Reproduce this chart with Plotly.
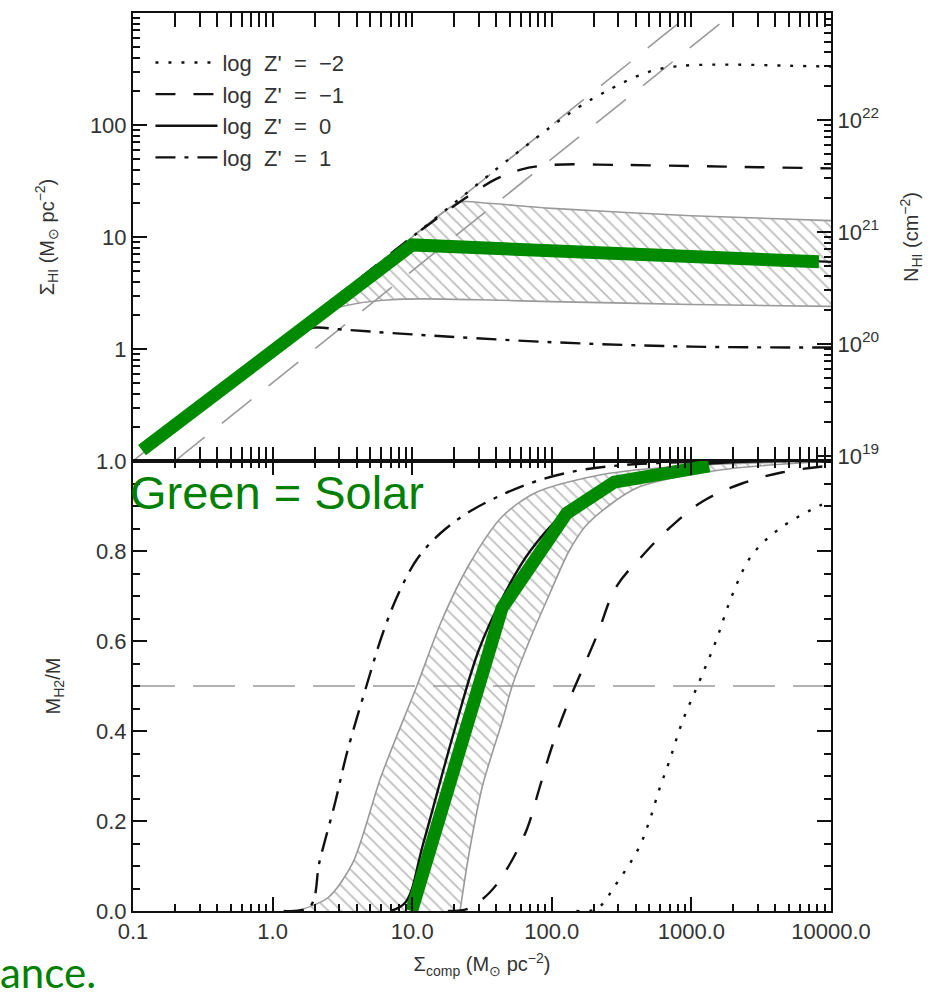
import numpy as np
import plotly.graph_objects as go

# ---------------- data ----------------
# top panel: Sigma_HI vs Sigma_comp
top_z_m2_x = [1, 10, 60, 150, 272, 400, 550, 750, 1000, 2000, 5000, 10000]
top_z_m2_y = [1, 10, 60, 140, 214, 270, 310, 332, 342, 346, 338, 332]
top_z_m1_x = [1, 10, 25, 40, 60, 100, 300, 1000, 3000, 10000]
top_z_m1_y = [1, 10, 23, 33, 40, 44, 44, 43, 42, 41]
top_z_0_x = [1, 5, 8, 12, 20, 100, 1000, 10000]
top_z_0_y = [1, 4.9, 7, 8, 8.2, 7.6, 6.8, 6.0]
top_z_p1_x = [1, 1.5, 2, 3, 10, 100, 1000, 10000]
top_z_p1_y = [1, 1.4, 1.55, 1.5, 1.35, 1.15, 1.05, 1.03]

top_band_up_x = [1.8, 5, 10, 16, 22, 35, 100, 1000, 10000]
top_band_up_y = [1.8, 5, 10, 16, 20.5, 20, 18, 15.5, 14]
top_band_lo_x = [1.8, 2.5, 4, 7, 12, 30, 100, 1000, 10000]
top_band_lo_y = [1.8, 2.2, 2.55, 2.75, 2.8, 2.75, 2.65, 2.5, 2.4]

top_ref1_x = [0.1, 1000]
top_ref1_y = [0.1, 1000]
top_ref2_x = [0.2, 2000]
top_ref2_y = [0.1, 1000]

green_top_x = [0.116, 10, 8200]
green_top_y = [0.125, 8.5, 6.0]

# bottom panel: M_H2 / M vs Sigma_comp
bot_z_m2_x = [150, 210, 289, 420, 500, 588, 690, 860, 1140, 1500, 1950, 2700, 4300, 8200, 10000]
bot_z_m2_y = [0, 0.005, 0.06, 0.14, 0.2, 0.27, 0.33, 0.42, 0.51, 0.6, 0.7, 0.79, 0.85, 0.9, 0.91]
bot_z_m1_x = [18, 25, 35.6, 47, 66, 81, 99, 126, 209, 289, 447, 690, 1200, 2300, 4500, 10000]
bot_z_m1_y = [0, 0.005, 0.04, 0.09, 0.18, 0.27, 0.36, 0.45, 0.61, 0.72, 0.79, 0.85, 0.91, 0.95, 0.975, 0.99]
bot_z_0_x = [7, 9, 12, 20, 30, 45, 70, 130, 300, 1000, 10000]
bot_z_0_y = [0, 0.02, 0.15, 0.4, 0.58, 0.7, 0.8, 0.89, 0.95, 0.99, 1.0]
bot_z_p1_x = [1.2, 1.85, 2.17, 2.8, 3.4, 4.7, 6.2, 8.1, 11, 16, 25, 44, 77, 150, 300, 1000, 10000]
bot_z_p1_y = [0, 0.01, 0.11, 0.24, 0.35, 0.5, 0.62, 0.71, 0.785, 0.84, 0.885, 0.925, 0.955, 0.978, 0.99, 0.998, 1.0]

bot_band_l_x = [1.5, 2.5, 3.75, 6, 10.8, 16, 25.6, 44, 77, 230, 1000, 10000]
bot_band_l_y = [0, 0.03, 0.107, 0.3, 0.5, 0.64, 0.77, 0.876, 0.93, 0.97, 0.99, 1.0]
bot_band_r_x = [22, 25.6, 32, 44, 52, 69, 95, 133, 180, 405, 1600, 10000]
bot_band_r_y = [0, 0.13, 0.28, 0.42, 0.5, 0.6, 0.7, 0.8, 0.86, 0.94, 0.98, 1.0]

half_x = [0.1, 10000]
half_y = [0.5, 0.5]

green_bot_x = [9.9, 44, 128, 280, 1340]
green_bot_y = [0, 0.673, 0.884, 0.953, 0.989]

x_tickvals = [0.1, 1, 10, 100, 1000, 10000]
x_ticktext = ["0.1", "1.0", "10.0", "100.0", "1000.0", "10000.0"]
top_tickvals = [1, 10, 100]
top_ticktext = ["1", "10", "100"]
nhi_tickvals = [1e19, 1e20, 1e21, 1e22]
nhi_ticktext = ["10<sup>19</sup>", "10<sup>20</sup>", "10<sup>21</sup>", "10<sup>22</sup>"]
bot_tickvals = [0, 0.2, 0.4, 0.6, 0.8, 1.0]
bot_ticktext = ["0.0", "0.2", "0.4", "0.6", "0.8", "1.0"]
legend_names = ["log\u00a0 Z'\u00a0 =\u00a0 \u22122", "log\u00a0 Z'\u00a0 =\u00a0 \u22121",
                "log\u00a0 Z'\u00a0 =\u00a0 0", "log\u00a0 Z'\u00a0 =\u00a0 1"]
NHI_PER_SIGMA = 9e19

# ---------------- styles ----------------
GREEN = "#008a00"
GRAY = "#9a9a9a"
DOT = "3px,10px"
DASH = "20px,18px"
DASHDOT = "20px,9px,4px,9px"
LONG = "38px,22px"
HLONG = "42px,18px"

fig = go.Figure()
pat = dict(shape="\\", size=9, solidity=0.18, fgcolor="#777", bgcolor="white")
band_line = dict(color=GRAY, width=1.6, shape="spline", smoothing=0.8)

# top panel band (lower boundary, then upper boundary filled to it)
fig.add_trace(go.Scatter(x=top_band_lo_x, y=top_band_lo_y, mode="lines", line=band_line,
                         showlegend=False, xaxis="x", yaxis="y", hoverinfo="skip"))
fig.add_trace(go.Scatter(x=top_band_up_x, y=top_band_up_y, mode="lines", line=band_line,
                         fill="tonexty", fillcolor="rgba(0,0,0,0)", fillpattern=pat,
                         showlegend=False, xaxis="x", yaxis="y", hoverinfo="skip"))
fig.add_trace(go.Scatter(x=top_ref1_x, y=top_ref1_y, mode="lines", line=dict(color=GRAY, width=1.6, dash=LONG),
                         showlegend=False, xaxis="x", yaxis="y"))
fig.add_trace(go.Scatter(x=top_ref2_x, y=top_ref2_y, mode="lines", line=dict(color=GRAY, width=1.6, dash=LONG),
                         showlegend=False, xaxis="x", yaxis="y"))
styles = [DOT, DASH, "solid", DASHDOT]
tops = [(top_z_m2_x, top_z_m2_y), (top_z_m1_x, top_z_m1_y), (top_z_0_x, top_z_0_y), (top_z_p1_x, top_z_p1_y)]
for (xx, yy), st, nm in zip(tops, styles, legend_names):
    fig.add_trace(go.Scatter(x=xx, y=yy, mode="lines", name=nm,
                             line=dict(color="#111", width=2.4, dash=st, shape="spline"),
                             xaxis="x", yaxis="y"))
fig.add_trace(go.Scatter(x=green_top_x, y=green_top_y, mode="lines", line=dict(color=GREEN, width=13),
                         showlegend=False, xaxis="x", yaxis="y"))
# invisible trace on N_HI axis
fig.add_trace(go.Scatter(x=green_top_x, y=[v * NHI_PER_SIGMA for v in green_top_y], mode="lines",
                         line=dict(width=0), opacity=0, showlegend=False, xaxis="x", yaxis="y2", hoverinfo="skip"))

# bottom panel band (left boundary, then right boundary filled horizontally to it)
fig.add_trace(go.Scatter(x=bot_band_l_x, y=bot_band_l_y, mode="lines", line=band_line,
                         showlegend=False, xaxis="x2", yaxis="y3", hoverinfo="skip"))
fig.add_trace(go.Scatter(x=bot_band_r_x, y=bot_band_r_y, mode="lines", line=band_line,
                         fill="tonextx", fillcolor="rgba(0,0,0,0)", fillpattern=pat,
                         showlegend=False, xaxis="x2", yaxis="y3", hoverinfo="skip"))
fig.add_trace(go.Scatter(x=half_x, y=half_y, mode="lines", line=dict(color=GRAY, width=1.6, dash=HLONG),
                         showlegend=False, xaxis="x2", yaxis="y3"))
bots = [(bot_z_m2_x, bot_z_m2_y), (bot_z_m1_x, bot_z_m1_y), (bot_z_0_x, bot_z_0_y), (bot_z_p1_x, bot_z_p1_y)]
for (xx, yy), st in zip(bots, styles):
    fig.add_trace(go.Scatter(x=xx, y=yy, mode="lines", line=dict(color="#111", width=2.4, dash=st, shape="spline"),
                             showlegend=False, xaxis="x2", yaxis="y3"))
fig.add_trace(go.Scatter(x=green_bot_x, y=green_bot_y, mode="lines", line=dict(color=GREEN, width=13),
                         showlegend=False, xaxis="x2", yaxis="y3"))

W, H = 944, 998
L, R, T, B = 133, 113, 13, 87
plot_h = H - T - B
split = (911 - 461) / plot_h

TF = dict(family="Liberation Sans, Arial, sans-serif", size=22, color="#333")
common = dict(showline=True, linecolor="#111", linewidth=2, ticks="inside", tickcolor="#111",
              tickwidth=2, showgrid=False, zeroline=False, tickfont=TF)
logminor = dict(ticks="inside", ticklen=7, tickcolor="#111", tickwidth=1.5, dtick="D1", showgrid=False)

fig.update_layout(
    width=W, height=H, margin=dict(l=L, r=R, t=T, b=B, autoexpand=False),
    paper_bgcolor="white", plot_bgcolor="white",
    font=dict(family="Liberation Sans, Arial, sans-serif", color="#333"),
    xaxis=dict(type="log", range=[-1, 4], domain=[0, 1], anchor="y", mirror="allticks",
               showticklabels=False, ticklen=14, tickvals=x_tickvals, minor=logminor, **common),
    yaxis=dict(type="log", range=[-1, 3], domain=[split, 1], anchor="x", ticklen=14,
               tickvals=top_tickvals, ticktext=top_ticktext, minor=logminor,
               title=dict(text="\u03a3<sub>HI</sub> (M<sub>\u2299</sub> pc<sup>\u22122</sup>)",
                          font=dict(size=20, color="#333"), standoff=30), **common),
    yaxis2=dict(type="log", range=[np.log10(0.1 * NHI_PER_SIGMA), np.log10(1000 * NHI_PER_SIGMA)],
                overlaying="y", side="right", anchor="x", ticklen=14,
                tickvals=nhi_tickvals, ticktext=nhi_ticktext, minor=logminor,
                title=dict(text="N<sub>HI</sub> (cm<sup>\u22122</sup>)", font=dict(size=20, color="#333"),
                           standoff=26), **common),
    xaxis2=dict(type="log", range=[-1, 4], domain=[0, 1], anchor="y3", mirror="allticks", ticklen=14,
                tickvals=x_tickvals, ticktext=x_ticktext, minor=logminor,
                title=dict(text="\u03a3<sub>comp</sub> (M<sub>\u2299</sub> pc<sup>\u22122</sup>)",
                           font=dict(size=20, color="#333"), standoff=14), **common),
    yaxis3=dict(range=[0, 1], domain=[0, split], anchor="x2", mirror="allticks", ticklen=14,
                tickvals=bot_tickvals, ticktext=bot_ticktext,
                minor=dict(ticks="inside", ticklen=7, tickcolor="#111", tickwidth=1.5, dtick=0.05, showgrid=False),
                title=dict(text="M<sub>H2</sub>/M", font=dict(size=20, color="#333"), standoff=30), **common),
    legend=dict(x=0.025, y=0.968, xanchor="left", yanchor="top", bgcolor="rgba(0,0,0,0)",
                font=dict(size=22, color="#333", family="Liberation Sans, Arial, sans-serif"),
                tracegroupgap=0, itemwidth=62, traceorder="normal"),
    showlegend=True,
)

fig.add_annotation(text="Green = Solar", xref="paper", yref="paper",
                   x=(128 - L) / (W - L - R), y=(911 - 492) / plot_h, xanchor="left", yanchor="middle",
                   showarrow=False, font=dict(family="Liberation Sans, Arial", size=47, color="#008000"))
fig.add_annotation(text="ance.", xref="paper", yref="paper",
                   x=(-2 - L) / (W - L - R), y=(911 - 972) / plot_h, xanchor="left", yanchor="middle",
                   showarrow=False, font=dict(family="Lato, sans-serif", size=42, color="#008000"))

fig.write_html("out.html")
